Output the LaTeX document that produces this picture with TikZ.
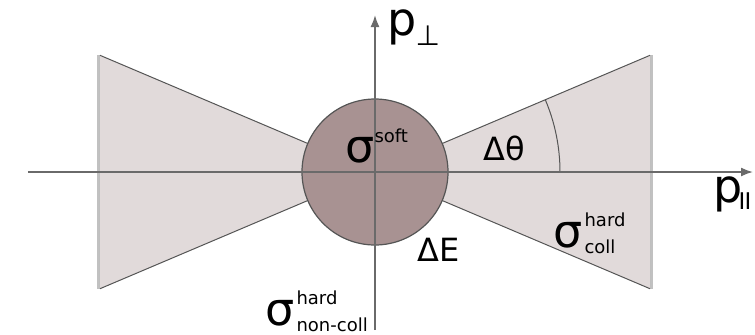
\documentclass[tikz,border=0pt]{standalone}
\usepackage{fontspec}
\setmainfont{DejaVu Sans}
\usetikzlibrary{arrows.meta, positioning, calc}
\definecolor{conefill}{HTML}{E1DADA}
\definecolor{softfill}{HTML}{A89292}
\definecolor{axisgray}{HTML}{6A6A6A}
\definecolor{edgegray}{HTML}{555555}
\newcommand{\bigsym}{\fontsize{23}{26}\selectfont}
\newcommand{\smallidx}{\fontsize{9}{13.5}\selectfont}
\newcommand{\supsub}[3]{#1\kern1pt\raisebox{-3pt}{\smallidx\begin{tabular}[b]{@{}l@{}}#2\\#3\end{tabular}}}

\begin{document}
\begin{tikzpicture}[x=0.5pt, y=0.5pt,
    cone/.style={fill=conefill, draw=none},
    coneedge/.style={draw=edgegray, line width=0.5pt},
    shadowedge/.style={draw=gray!70, line width=1.6pt, opacity=0.7},
    axis/.style={draw=axisgray, line width=0.8pt, -{Latex[length=6pt, width=4.5pt]}},
    lbl/.style={inner sep=0pt, anchor=base west}]
    \useasboundingbox (-375,-162) rectangle (380,172);

    % collinear cones
    \coordinate (O) at (0,0);
    \coordinate (lt) at (-275,116.7);
    \coordinate (lb) at (-275,-116.7);
    \coordinate (rt) at (275,116.7);
    \coordinate (rb) at (275,-116.7);
    \fill[cone] (O) -- (lt) -- (lb) -- cycle;
    \fill[cone] (O) -- (rt) -- (rb) -- cycle;
    \draw[shadowedge] ($(lt)+(-1.5,0)$) -- ($(lb)+(-1.5,0)$);
    \draw[shadowedge] ($(rt)+(1.5,0)$) -- ($(rb)+(1.5,0)$);
    \draw[coneedge] (O) -- (lt);
    \draw[coneedge] (O) -- (lb);
    \draw[coneedge] (O) -- (rt);
    \draw[coneedge] (O) -- (rb);
    \draw[coneedge] (185,0) arc[start angle=0, end angle=23, radius=185];

    % soft region
    \draw[fill=softfill, draw=edgegray, line width=0.6pt] (O) circle[radius=73];

    % axes
    \coordinate (xstart) at (-347,0);
    \coordinate (xend) at (378,0);
    \coordinate (ystart) at (0,-158);
    \coordinate (yend) at (0,157);
    \draw[axis] (xstart) -- (xend);
    \draw[axis] (ystart) -- (yend);

    \node[lbl] (pperp) at (12,137) {\bigsym p\kern-0.5pt\raisebox{-5pt}{\fontsize{14}{14}\selectfont ⊥}};
    \node[lbl] (ppar) at (338,-30) {\bigsym p\kern-2pt\raisebox{-3.5pt}{\fontsize{11.5}{12}\selectfont I\kern-0.4pt I}};

    \node[lbl] (soft) at (-30,10) {\bigsym σ\raisebox{10pt}{\smallidx soft}};
    \node[lbl] (coll) at (178,-75) {\bigsym \supsub{σ}{hard}{coll}};
    \node[lbl] (noncoll) at (-110,-153) {\bigsym \supsub{σ}{hard}{non-coll}};
    \node[lbl] (dtheta) at (108,12) {\fontsize{16}{18}\selectfont Δθ};
    \node[lbl] (dE) at (42,-89) {\fontsize{16}{18}\selectfont ΔE};
\end{tikzpicture}
\end{document}
